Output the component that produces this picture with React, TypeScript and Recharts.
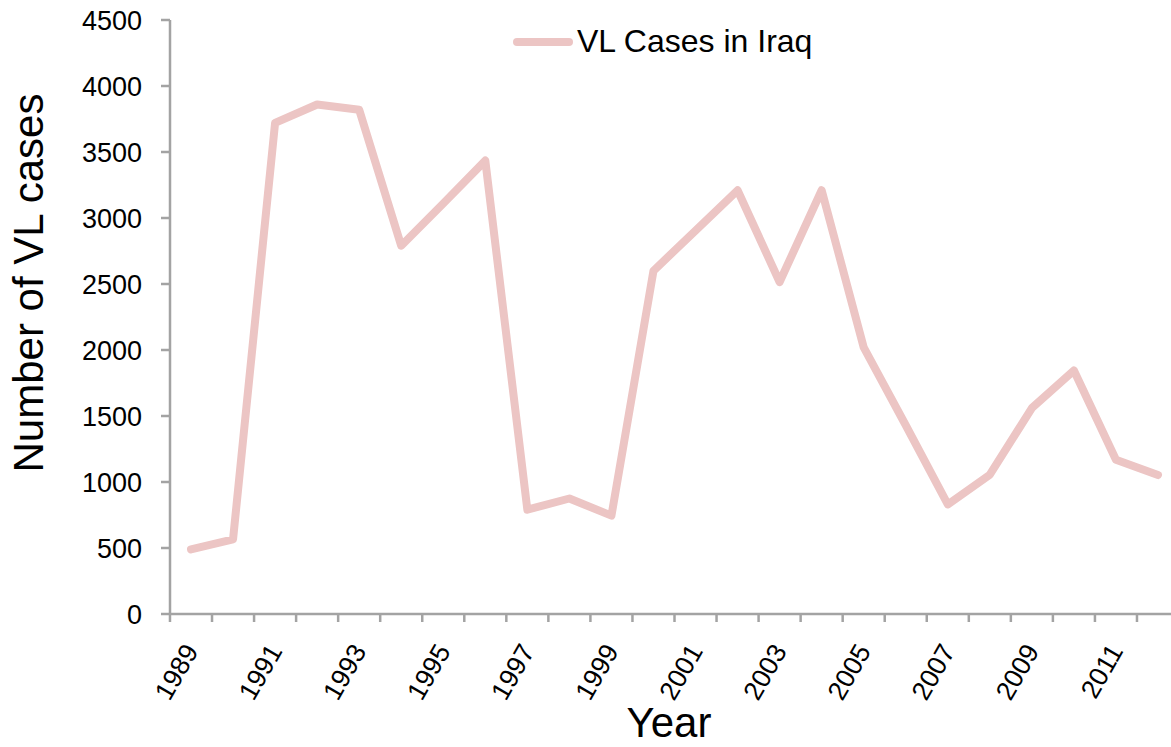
import React from 'react';
import { LineChart, Line, XAxis, YAxis, Legend, Label } from 'recharts';

const years = ['1989','1990','1991','1992','1993','1994','1995','1996','1997','1998','1999','2000','2001','2002','2003','2004','2005','2006','2007','2008','2009','2010','2011','2012'];
const vlCases = [490, 565, 3720, 3860, 3820, 2790, 3110, 3435, 790, 875, 745, 2600, 2905, 3210, 2515, 3210, 2020, 1430, 830, 1055, 1560, 1845, 1168, 1053];
const yTicks = [0, 500, 1000, 1500, 2000, 2500, 3000, 3500, 4000, 4500];

const seriesName = 'VL Cases in Iraq';
const data = years.map((y, i) => ({ year: y, cases: vlCases[i] }));

const FONT = '"Liberation Sans", Arial, Helvetica, sans-serif';
const AXIS = '#a3a3a3';
const LINE = '#ecc5c4';

const XTick = (props: any) => {
  const { x, y, payload, index, width, visibleTicksCount } = props;
  const band = width / visibleTicksCount;
  const left = x - band / 2;
  const isLast = index === visibleTicksCount - 1;
  const tx = x + 8;
  const ty = y + 29;
  return (
    <g>
      <line x1={left} y1={y - 8} x2={left} y2={y} stroke={AXIS} strokeWidth={2.5} />
      {isLast && <line x1={x + band / 2} y1={y - 8} x2={x + band / 2} y2={y} stroke={AXIS} strokeWidth={2.5} />}
      {index % 2 === 0 && (
        <text
          x={tx}
          y={ty}
          transform={`rotate(-60, ${tx}, ${ty})`}
          textAnchor="end"
          fontSize={26.5}
          fontFamily={FONT}
          fill="#000"
        >
          {payload.value}
        </text>
      )}
    </g>
  );
};

const LegendContent = () => (
  <div style={{ display: 'flex', alignItems: 'center', fontFamily: FONT, fontSize: 32, color: '#000', whiteSpace: 'nowrap' }}>
    <svg width={72} height={20}>
      <line x1={12} y1={10} x2={64} y2={10} stroke={LINE} strokeWidth={8} strokeLinecap="round" />
    </svg>
    <span>{seriesName}</span>
  </div>
);

export default function App() {
  return (
    <div style={{ position: 'absolute', left: 0, top: 0, width: 1171, height: 747, overflow: 'hidden', background: '#fff' }}>
      <LineChart width={1200} height={747} data={data} margin={{ top: 20, right: 21, left: 0, bottom: 0 }}>
        <XAxis
          dataKey="year"
          interval={0}
          height={133}
          padding={{ left: 21, right: 21 }}
          tickLine={false}
          tickSize={8}
          tickMargin={0}
          tick={<XTick />}
          axisLine={{ stroke: AXIS, strokeWidth: 2.5 }}
        >
          <Label
            content={() => (
              <text x={669} y={737} textAnchor="middle" fontSize={42} fontFamily={FONT} fill="#000">Year</text>
            )}
          />
        </XAxis>
        <YAxis
          width={170}
          domain={[0, 4500]}
          ticks={yTicks}
          interval={0}
          tickSize={9}
          tickMargin={19}
          tick={{ fontSize: 27, fontFamily: FONT, fill: '#000' }}
          tickLine={{ stroke: AXIS, strokeWidth: 2.5 }}
          axisLine={{ stroke: AXIS, strokeWidth: 2.5 }}
        >
          <Label
            content={() => (
              <text transform="translate(43, 283) rotate(-90)" textAnchor="middle" fontSize={42} fontFamily={FONT} fill="#000">Number of VL cases</text>
            )}
          />
        </YAxis>
        <Legend
          verticalAlign="middle"
          align="center"
          layout="horizontal"
          wrapperStyle={{ left: 505, top: 23, width: 'auto' }}
          content={<LegendContent />}
        />
        <Line
          type="linear"
          dataKey="cases"
          name={seriesName}
          stroke={LINE}
          strokeWidth={8}
          strokeLinecap="round"
          strokeLinejoin="round"
          dot={false}
          activeDot={false}
          isAnimationActive={false}
        />
      </LineChart>
    </div>
  );
}
